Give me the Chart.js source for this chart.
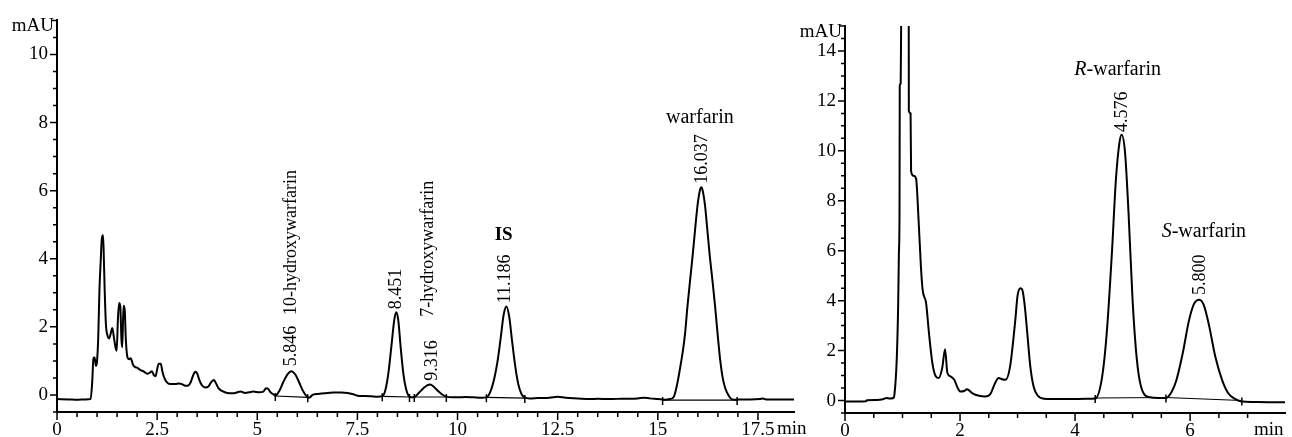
<!DOCTYPE html>
<html>
<head>
<meta charset="utf-8">
<script src="https://cdn.jsdelivr.net/npm/chart.js@4.4.1/dist/chart.umd.min.js"></script>
<style>
  body { margin: 0; background: #fff; }
  #wrap { position: relative; width: 1292px; height: 437px; overflow: hidden; background: #fff; }
  canvas { position: absolute; top: 0; }
  #leftChart { left: 0; }
  #rightChart { left: 780px; }
</style>
</head>
<body>
<div id="wrap">
  <canvas id="leftChart" width="820" height="437"></canvas>
  <canvas id="rightChart" width="512" height="437"></canvas>
</div>
<script>
// Left chromatogram (metabolites), [time min, mAU]
var leftTrace = [
  [0, -0.12], [0.3, -0.13], [0.5, -0.14], [0.7, -0.13], [0.84, -0.12], [0.88, 0.4], [0.91, 1.08],
  [0.94, 1.1], [0.97, 0.85], [1.0, 1.0], [1.03, 1.7], [1.06, 3.1], [1.09, 3.9], [1.12, 4.6],
  [1.15, 4.69], [1.17, 4.0], [1.19, 3.1], [1.22, 2.1], [1.26, 1.75], [1.3, 1.66], [1.34, 1.8],
  [1.38, 1.97], [1.42, 1.7], [1.46, 1.4], [1.49, 1.3], [1.52, 2.2], [1.55, 2.7], [1.58, 2.6],
  [1.61, 1.6], [1.63, 1.4], [1.66, 2.62], [1.69, 2.5], [1.72, 1.6], [1.76, 1.1], [1.8, 1.05],
  [1.84, 1.08], [1.9, 0.88], [1.95, 0.82], [2.0, 0.8], [2.05, 0.76], [2.1, 0.72], [2.15, 0.7],
  [2.2, 0.66], [2.26, 0.62], [2.32, 0.66], [2.37, 0.7], [2.42, 0.58], [2.46, 0.55], [2.5, 0.75],
  [2.54, 0.92], [2.59, 0.92], [2.63, 0.7], [2.68, 0.5], [2.74, 0.38], [2.82, 0.32], [2.95, 0.32],
  [3.05, 0.34], [3.12, 0.32], [3.2, 0.27], [3.28, 0.28], [3.34, 0.38], [3.4, 0.58], [3.45, 0.68],
  [3.5, 0.63], [3.56, 0.42], [3.62, 0.28], [3.7, 0.22], [3.78, 0.25], [3.85, 0.38], [3.92, 0.44],
  [3.97, 0.34], [4.03, 0.2], [4.12, 0.12], [4.25, 0.06], [4.4, 0.05], [4.5, 0.08], [4.58, 0.1],
  [4.7, 0.06], [4.8, 0.08], [4.9, 0.1], [5.05, 0.08], [5.15, 0.1], [5.22, 0.2], [5.27, 0.18],
  [5.33, 0.08], [5.4, 0.02], [5.45, -0.02], [5.55, 0.12], [5.65, 0.38], [5.75, 0.6], [5.85, 0.7],
  [5.95, 0.6], [6.05, 0.36], [6.15, 0.1], [6.25, -0.06], [6.3, -0.08], [6.38, 0.0], [6.5, 0.03],
  [6.6, 0.04], [6.75, 0.06], [6.9, 0.07], [7.1, 0.07], [7.25, 0.06], [7.4, 0.02], [7.5, -0.02],
  [7.7, -0.03], [7.85, -0.04], [8.0, -0.05], [8.12, -0.04], [8.2, 0.15], [8.28, 0.7], [8.35, 1.45],
  [8.42, 2.2], [8.47, 2.43], [8.52, 2.2], [8.58, 1.4], [8.65, 0.6], [8.72, 0.15], [8.8, -0.05],
  [8.88, -0.07], [8.95, -0.04], [9.05, 0.08], [9.15, 0.2], [9.25, 0.29], [9.32, 0.31], [9.4, 0.25],
  [9.5, 0.13], [9.6, 0.03], [9.72, -0.05], [9.85, -0.07], [10.0, -0.07], [10.2, -0.06], [10.4, -0.07],
  [10.6, -0.08], [10.72, -0.07], [10.82, 0.1], [10.92, 0.5], [11.0, 1.0], [11.08, 1.7], [11.15, 2.35],
  [11.22, 2.6], [11.29, 2.3], [11.36, 1.6], [11.44, 0.85], [11.52, 0.3], [11.6, 0.02], [11.68, -0.08],
  [11.8, -0.1], [12.0, -0.09], [12.3, -0.08], [12.5, -0.05], [12.7, -0.08], [13.0, -0.1], [13.3, -0.12],
  [13.5, -0.11], [13.8, -0.12], [14.1, -0.11], [14.5, -0.1], [14.65, -0.08], [14.8, -0.1], [15.0, -0.12],
  [15.18, -0.14], [15.3, -0.12], [15.4, -0.05], [15.48, 0.3], [15.55, 0.75], [15.62, 1.25], [15.68, 1.8],
  [15.74, 2.6], [15.8, 3.3], [15.87, 4.1], [15.93, 4.85], [16.0, 5.65], [16.06, 6.05], [16.09, 6.1],
  [16.13, 5.95], [16.18, 5.55], [16.24, 4.8], [16.3, 4.05], [16.37, 3.3], [16.43, 2.6], [16.5, 1.7],
  [16.56, 1.0], [16.62, 0.5], [16.68, 0.21], [16.75, 0.02], [16.84, -0.12], [16.95, -0.14], [17.1, -0.13],
  [17.3, -0.13], [17.55, -0.12], [17.62, -0.1], [17.7, -0.13], [18.0, -0.13], [18.4, -0.13]
];
// integration baselines: [start time, start mAU, end time, end mAU]
var leftBaselines = [
  [5.45, -0.03, 6.26, -0.07],
  [8.12, -0.04, 8.8, -0.06],
  [8.92, -0.06, 9.72, -0.06],
  [10.72, -0.07, 11.68, -0.09],
  [15.12, -0.15, 16.98, -0.15]
];
var leftXTicks = [0, 2.5, 5, 7.5, 10, 12.5, 15, 17.5];
var leftYTicks = [0, 2, 4, 6, 8, 10];

// Right chromatogram (chiral separation)
var rightTrace = [
  [0, -0.04], [0.2, -0.04], [0.36, -0.03], [0.38, 0.01], [0.55, 0.02], [0.66, 0.05], [0.72, 0.1],
  [0.78, 0.08], [0.84, 0.1], [0.86, 0.25], [0.9, 1.67], [0.925, 3.9], [0.937, 5.9], [0.948, 7.6],
  [0.952, 12.6], [0.968, 12.7], [0.977, 15.3], [1.04, 19], [1.108, 15.3], [1.11, 11.6], [1.14, 11.5],
  [1.149, 9.2], [1.19, 9.0], [1.235, 8.9], [1.28, 7.2], [1.32, 5.36], [1.35, 4.43], [1.41, 3.9],
  [1.46, 2.7], [1.52, 1.49], [1.58, 0.96], [1.63, 0.9], [1.69, 1.3], [1.74, 2.05], [1.78, 1.1],
  [1.84, 0.96], [1.9, 0.83], [1.96, 0.5], [2.01, 0.36], [2.07, 0.38], [2.12, 0.45], [2.21, 0.3],
  [2.33, 0.19], [2.44, 0.16], [2.53, 0.27], [2.61, 0.7], [2.67, 0.9], [2.73, 0.85], [2.79, 0.83],
  [2.87, 1.36], [2.96, 3.2], [3.0, 4.2], [3.05, 4.5], [3.08, 4.45], [3.12, 3.9], [3.17, 2.68],
  [3.22, 1.4], [3.28, 0.55], [3.35, 0.2], [3.46, 0.07], [3.6, 0.06], [3.9, 0.06], [4.2, 0.07],
  [4.35, 0.08], [4.47, 0.94], [4.55, 2.68], [4.64, 5.89], [4.71, 8.84], [4.77, 10.3], [4.81, 10.64],
  [4.87, 9.9], [4.93, 7.5], [5.0, 4.02], [5.07, 1.74], [5.15, 0.53], [5.3, 0.13], [5.45, 0.1],
  [5.58, 0.1], [5.68, 0.35], [5.76, 0.8], [5.87, 1.87], [5.98, 3.2], [6.07, 3.88], [6.16, 4.04],
  [6.24, 3.81], [6.33, 3.0], [6.44, 1.74], [6.56, 0.8], [6.67, 0.27], [6.78, 0.07], [6.9, -0.04],
  [7.1, -0.06], [7.4, -0.07], [7.65, -0.07]
];
var rightBaselines = [
  [4.35, 0.1, 5.58, 0.12],
  [5.58, 0.12, 6.9, 0.0]
];
var rightXTicks = [0, 2, 4, 6];
var rightYTicks = [0, 2, 4, 6, 8, 10, 12, 14];

// peak annotations (anchored in data units)
var leftNotes = [
  { text: '10-hydroxywarfarin', x: 5.86, y: 2.35, vertical: true },
  { text: '5.846', x: 5.86, y: 0.84, vertical: true },
  { text: '8.451', x: 8.48, y: 2.52, vertical: true },
  { text: '7-hydroxywarfarin', x: 9.26, y: 2.3, vertical: true },
  { text: '9.316', x: 9.36, y: 0.42, vertical: true },
  { text: 'IS', x: 11.15, y: 4.7, bold: true },
  { text: '11.186', x: 11.18, y: 2.69, vertical: true },
  { text: 'warfarin', x: 16.05, y: 8.14 },
  { text: '16.037', x: 16.1, y: 6.2, vertical: true }
];
var rightNotes = [
  { parts: [['R', true], ['-warfarin', false]], x: 4.74, y: 13.24 },
  { text: '4.576', x: 4.82, y: 10.75, vertical: true },
  { parts: [['S', true], ['-warfarin', false]], x: 6.24, y: 6.75 },
  { text: '5.800', x: 6.17, y: 4.23, vertical: true }
];

var FONT = '"Liberation Serif", "Times New Roman", serif';
Chart.defaults.font.family = FONT;
Chart.defaults.font.size = 19;
Chart.defaults.color = '#000';

function toPoints(arr) {
  return arr.map(function (p) { return { x: p[0], y: p[1] }; });
}

function baselineSets(list) {
  return list.map(function (b) {
    return {
      data: [{ x: b[0], y: b[1] }, { x: b[2], y: b[3] }],
      borderColor: '#000', borderWidth: 1.2, pointRadius: 0, tension: 0
    };
  });
}

function isMult(v, step) {
  return Math.abs(v / step - Math.round(v / step)) < 1e-6;
}

// draws minor/major tick marks, axis titles, baseline drop marks and peak labels
function makeDecor(cfg) {
  return {
    id: 'decor',
    afterDraw: function (chart) {
      var ctx = chart.ctx, xs = chart.scales.x, ys = chart.scales.y, a = chart.chartArea;
      ctx.save();
      ctx.strokeStyle = '#000';
      ctx.lineWidth = 1.5;
      ctx.beginPath();
      xs.ticks.forEach(function (t) {
        if (!isMult(t.value, 0.5)) return;
        var px = xs.getPixelForValue(t.value);
        var len = isMult(t.value, cfg.xMajor) ? 8 : 5;
        ctx.moveTo(px, a.bottom); ctx.lineTo(px, a.bottom + len);
      });
      ys.ticks.forEach(function (t) {
        if (!isMult(t.value, 0.5)) return;
        var py = ys.getPixelForValue(t.value);
        var len = isMult(t.value, 2) ? 7 : 4;
        ctx.moveTo(a.left, py); ctx.lineTo(a.left - len, py);
      });
      // bracket at top of y axis
      ctx.moveTo(a.left, a.top); ctx.lineTo(a.left - 5, a.top);
      // drop marks at baseline ends
      cfg.baselines.forEach(function (b) {
        [[b[0], b[1]], [b[2], b[3]]].forEach(function (p) {
          var px = xs.getPixelForValue(p[0]), py = ys.getPixelForValue(p[1]);
          ctx.moveTo(px, py - 3); ctx.lineTo(px, py + 5);
        });
      });
      ctx.stroke();

      ctx.fillStyle = '#000';
      ctx.font = '19px ' + FONT;
      ctx.textBaseline = 'middle';
      ctx.textAlign = 'right';
      ctx.fillText('mAU', a.left - 3, a.top + 6);
      ctx.textAlign = 'left';
      ctx.fillText('min', a.right - cfg.minOffset, a.bottom + 17);

      cfg.notes.forEach(function (n) {
        var px = xs.getPixelForValue(n.x), py = ys.getPixelForValue(n.y);
        ctx.save();
        ctx.translate(px, py);
        ctx.textBaseline = 'middle';
        if (n.vertical) {
          ctx.font = '18px ' + FONT;
          ctx.rotate(-Math.PI / 2);
          ctx.textAlign = 'left';
          ctx.fillText(n.text, 0, 0);
        } else if (n.parts) {
          var widths = n.parts.map(function (p) {
            ctx.font = (p[1] ? 'italic ' : '') + '20px ' + FONT;
            return ctx.measureText(p[0]).width;
          });
          var total = widths.reduce(function (s, w) { return s + w; }, 0);
          var cx = -total / 2;
          ctx.textAlign = 'left';
          n.parts.forEach(function (p, i) {
            ctx.font = (p[1] ? 'italic ' : '') + '20px ' + FONT;
            ctx.fillText(p[0], cx, 0);
            cx += widths[i];
          });
        } else {
          ctx.font = n.bold ? 'bold 19px ' + FONT : '20px ' + FONT;
          ctx.textAlign = 'center';
          ctx.fillText(n.text, 0, 0);
        }
        ctx.restore();
      });
      ctx.restore();
    }
  };
}

function makeChart(id, trace, baselines, xMax, yMax, xTicks, yTicks, pad, cfg) {
  var ctx = document.getElementById(id).getContext('2d');
  return new Chart(ctx, {
    type: 'line',
    data: {
      datasets: [{
        data: toPoints(trace),
        borderColor: '#000',
        borderWidth: 2,
        pointRadius: 0,
        cubicInterpolationMode: 'monotone'
      }].concat(baselineSets(baselines))
    },
    options: {
      responsive: false,
      animation: false,
      devicePixelRatio: 1,
      layout: { padding: { left: 0, top: pad.top, right: pad.right, bottom: 0 } },
      plugins: { legend: { display: false }, tooltip: { enabled: false } },
      scales: {
        x: {
          type: 'linear', min: 0, max: xMax,
          grid: { display: false, drawTicks: false },
          border: { display: true, color: '#000', width: 2 },
          ticks: {
            stepSize: 0.5, autoSkip: false, maxRotation: 0, padding: 7,
            callback: function (v) { return xTicks.indexOf(v) >= 0 ? String(v) : ''; }
          },
          afterFit: function (s) { s.height = pad.xh; }
        },
        y: {
          type: 'linear', min: -0.5, max: yMax,
          grid: { display: false, drawTicks: false },
          border: { display: true, color: '#000', width: 2 },
          ticks: {
            stepSize: 0.5, autoSkip: false, padding: 9,
            callback: function (v) { return yTicks.indexOf(v) >= 0 ? String(v) : ''; }
          },
          afterFit: function (s) { s.width = pad.yw; }
        }
      }
    },
    plugins: [makeDecor(cfg)]
  });
}

makeChart('leftChart', leftTrace, leftBaselines, 18.4, 11, leftXTicks, leftYTicks,
  { top: 14, right: 26, xh: 25, yw: 57 },
  { xMajor: 2.5, baselines: leftBaselines, notes: leftNotes, minOffset: 17 });

makeChart('rightChart', rightTrace, rightBaselines, 7.65, 15, rightXTicks, rightYTicks,
  { top: 26, right: 3, xh: 24, yw: 65 },
  { xMajor: 2, baselines: rightBaselines, notes: rightNotes, minOffset: 31 });
</script>
</body>
</html>
